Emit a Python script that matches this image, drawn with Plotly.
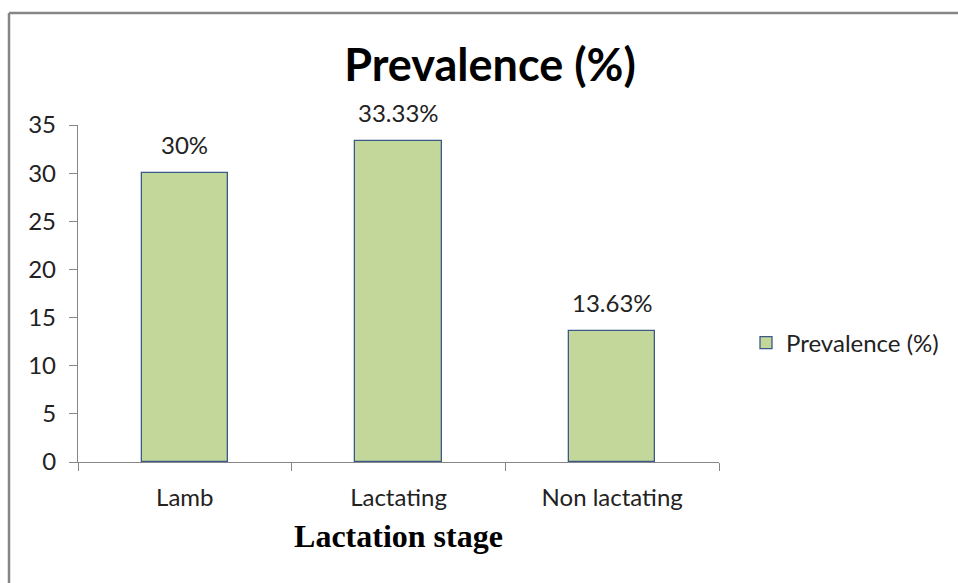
import plotly.graph_objects as go

# Prevalence by lactation stage
stages = ["Lamb", "Lactating", "Non lactating"]
prevalence = [30, 33.33, 13.63]
value_labels = ["30%", "33.33%", "13.63%"]
y_ticks = [0, 5, 10, 15, 20, 25, 30, 35]

W, H = 958, 583
L, R, T, B = 78, 239, 125, 121
plot_w = W - L - R
plot_h = H - T - B

BAR_FILL = "#C4D79B"
BAR_EDGE = "#3B5A8A"
AXIS_GREY = "#868686"
FONT = "Lato, 'Open Sans', sans-serif"
TXT = 24

fig = go.Figure()
fig.add_trace(go.Bar(
    x=stages,
    y=prevalence,
    name="Prevalence (%)",
    width=0.405,
    marker=dict(color=BAR_FILL, line=dict(color=BAR_EDGE, width=1.3)),
))

# value labels above each bar
for s, v, t in zip(stages, prevalence, value_labels):
    fig.add_annotation(x=s, y=v, text=t, showarrow=False, yanchor="bottom",
                       yshift=12, font=dict(family=FONT, size=TXT, color="#222"))

# outer frame (left and top edges)
def px_to_paper_x(px):
    return (px - L) / plot_w

def px_to_paper_y(py):
    return (H - B - py) / plot_h

fig.add_shape(type="line", xref="paper", yref="paper",
              x0=px_to_paper_x(9), x1=px_to_paper_x(9),
              y0=px_to_paper_y(13), y1=px_to_paper_y(H + 5),
              line=dict(color=AXIS_GREY, width=2.5))
fig.add_shape(type="line", xref="paper", yref="paper",
              x0=px_to_paper_x(9), x1=px_to_paper_x(W + 5),
              y0=px_to_paper_y(13), y1=px_to_paper_y(13),
              line=dict(color=AXIS_GREY, width=2.5))

fig.update_layout(
    width=W, height=H,
    margin=dict(l=L, r=R, t=T, b=B, autoexpand=False),
    paper_bgcolor="white", plot_bgcolor="white",
    font=dict(family=FONT, size=TXT, color="#222"),
    title=dict(text="<b>Prevalence (%)</b>", x=490 / W, xanchor="center",
               y=1 - 65 / H, yanchor="middle",
               font=dict(family=FONT, size=45, color="#000")),
    showlegend=True,
    legend=dict(x=px_to_paper_x(746), y=px_to_paper_y(343), xanchor="left",
                yanchor="middle", font=dict(family=FONT, size=TXT, color="#222"),
                bgcolor="rgba(0,0,0,0)", itemwidth=30),
    bargap=0,
)
fig.update_xaxes(
    showline=True, linecolor=AXIS_GREY, linewidth=1.3,
    ticks="outside", ticklen=8, tickcolor=AXIS_GREY, tickson="boundaries",
    showgrid=False, ticklabelstandoff=14,
    tickfont=dict(family=FONT, size=TXT, color="#222"),
    title=dict(text="<b>Lactation stage</b>", standoff=14,
               font=dict(family="'Liberation Serif', 'Times New Roman', serif",
                         size=32, color="#000")),
)
fig.update_yaxes(
    range=[0, 35], tickvals=y_ticks,
    showline=True, linecolor=AXIS_GREY, linewidth=1.3,
    ticks="outside", ticklen=8, tickcolor=AXIS_GREY,
    showgrid=False, zeroline=False, ticklabelstandoff=8,
    tickfont=dict(family=FONT, size=TXT, color="#222"),
)

fig.write_html("out.html")
